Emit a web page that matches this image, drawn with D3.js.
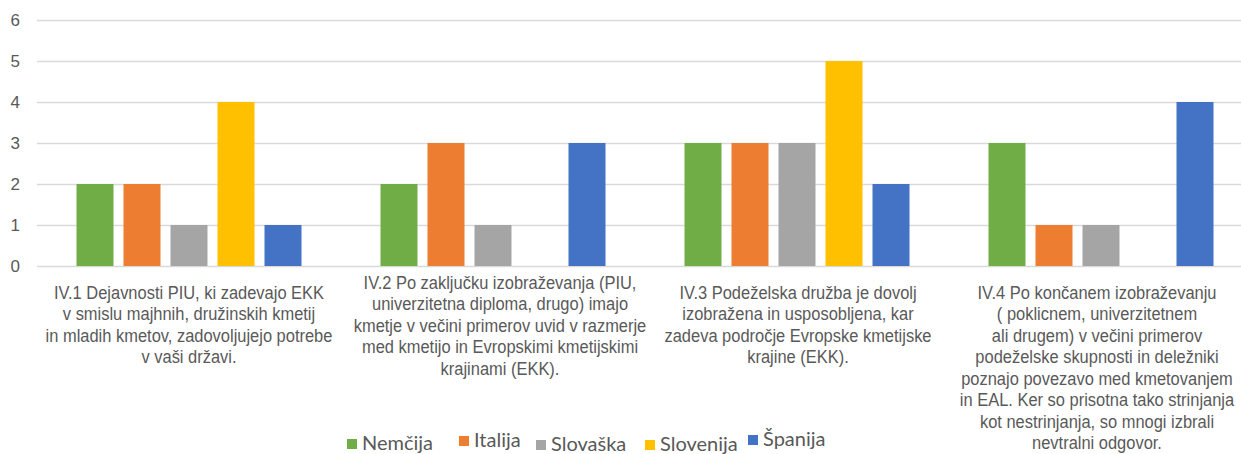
<!DOCTYPE html>
<html>
<head>
<meta charset="utf-8">
<script src="https://cdn.jsdelivr.net/npm/d3@7/dist/d3.min.js"></script>
<style>
  html, body { margin: 0; padding: 0; background: #fff; }
  svg { display: block; }
</style>
</head>
<body>
<svg id="chart" width="1241" height="454"></svg>
<script>
const categories = [
  ["IV.1 Dejavnosti PIU, ki zadevajo EKK", "v smislu majhnih, družinskih kmetij", "in mladih kmetov, zadovoljujejo potrebe", "v vaši državi."],
  ["IV.2 Po zaključku izobraževanja (PIU,", "univerzitetna diploma, drugo) imajo", "kmetje v večini primerov uvid v razmerje", "med kmetijo in Evropskimi kmetijskimi", "krajinami (EKK)."],
  ["IV.3 Podeželska družba je dovolj", "izobražena in usposobljena, kar", "zadeva področje Evropske kmetijske", "krajine (EKK)."],
  ["IV.4 Po končanem izobraževanju", "( poklicnem, univerzitetnem", "ali drugem) v večini primerov", "podeželske skupnosti in deležniki", "poznajo povezavo med kmetovanjem", "in EAL. Ker so prisotna tako strinjanja", "kot nestrinjanja, so mnogi izbrali", "nevtralni odgovor."]
];
const seriesNames = ["Nemčija", "Italija", "Slovaška", "Slovenija", "Španija"];
const nemcija   = [2, 2, 3, 3];
const italija   = [2, 3, 3, 1];
const slovaska  = [1, 1, 3, 1];
const slovenija = [4, 0, 5, 0];
const spanija   = [1, 3, 2, 4];
const seriesValues = [nemcija, italija, slovaska, slovenija, spanija];
const colors = ["#70AD47", "#ED7D31", "#A5A5A5", "#FFC000", "#4472C4"];
const yTicks = [0, 1, 2, 3, 4, 5, 6];

const svg = d3.select("#chart");
const mLeft = 37, mRight = 1253, mTop = 20, mBottom = 266;
const labelFont = "'Liberation Sans', Arial, sans-serif";
const textColor = "#595959";

const catIdx = categories.map((c, i) => i);
const x0 = d3.scaleBand().domain(catIdx).range([mLeft, mRight]).padding(0);
const bw = x0.bandwidth();
const groupW = 225;
const x1 = d3.scaleBand().domain(seriesNames)
  .range([(bw - groupW) / 2, (bw + groupW) / 2]).paddingInner(10 / 47).paddingOuter(0);
const y = d3.scaleLinear().domain([0, 6]).range([mBottom, mTop]);

// gridlines
svg.append("g").selectAll("line").data(yTicks).join("line")
  .attr("x1", mLeft).attr("x2", mRight)
  .attr("y1", d => Math.round(y(d)) + 0.5).attr("y2", d => Math.round(y(d)) + 0.5)
  .attr("stroke", "#D9D9D9").attr("stroke-width", 1.3);

// y axis labels
const yAxis = d3.axisLeft(y).tickValues(yTicks).tickSize(0).tickPadding(0).tickFormat(d3.format("d"));
const gy = svg.append("g").attr("transform", `translate(20,0)`).call(yAxis);
gy.select(".domain").remove();
gy.selectAll("text").attr("fill", textColor).style("font-family", labelFont).style("font-size", "17px");

// bars
const groups = svg.append("g").selectAll("g").data(catIdx).join("g")
  .attr("transform", i => `translate(${x0(i)},0)`);
groups.selectAll("rect")
  .data(i => seriesNames.map((s, k) => ({ s, k, v: seriesValues[k][i] })).filter(d => d.v > 0))
  .join("rect")
  .attr("x", d => x1(d.s))
  .attr("width", x1.bandwidth())
  .attr("y", d => y(d.v))
  .attr("height", d => y(0) - y(d.v))
  .attr("fill", d => colors[d.k]);

// category labels (condensed look)
const labelShift = [0, 7, 1, -4];
const labelTop = [299, 289, 299, 299];
const lineH = 21.5;
categories.forEach((lines, i) => {
  const cx = x0(i) + bw / 2 + labelShift[i];
  const t = svg.append("text")
    .attr("transform", `translate(${cx},0) scale(0.88,1)`)
    .attr("text-anchor", "middle")
    .attr("fill", textColor)
    .style("font-family", labelFont)
    .style("font-size", "18.7px");
  lines.forEach((ln, j) => {
    t.append("tspan").attr("x", 0).attr("y", labelTop[i] + j * lineH).text(ln);
  });
});

// legend
const legendX = [347, 459, 536, 645, 748];
const legendY = [450, 447, 451, 451, 446];
const lg = svg.append("g");
seriesNames.forEach((s, k) => {
  lg.append("rect").attr("x", legendX[k]).attr("y", legendY[k] - 11).attr("width", 10).attr("height", 10).attr("fill", colors[k]);
  lg.append("text").attr("x", legendX[k] + 15).attr("y", legendY[k])
    .attr("fill", textColor)
    .style("font-family", "Lato, 'Open Sans', sans-serif")
    .style("font-size", "20px")
    .text(s);
});
</script>
</body>
</html>
